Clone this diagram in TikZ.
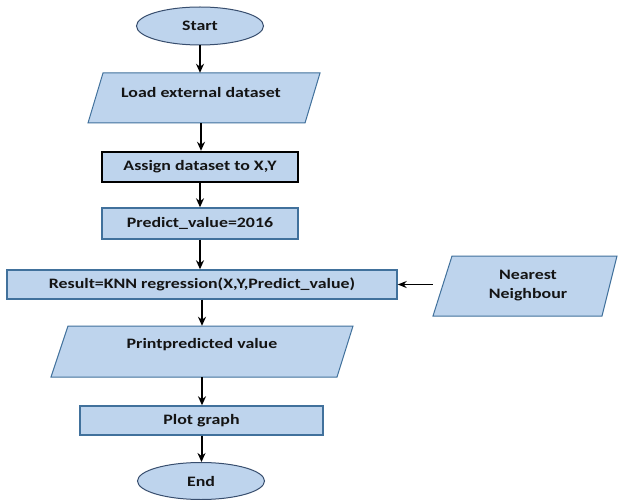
\documentclass[tikz,border=0pt]{standalone}
\usepackage{fontspec}
\setmainfont{Carlito}[FakeStretch=1.24]
\usetikzlibrary{shapes.geometric,arrows.meta}
\definecolor{boxfill}{RGB}{190,212,237}
\definecolor{boxline}{RGB}{65,113,156}
\definecolor{ovalline}{RGB}{56,78,110}
\definecolor{txtcol}{RGB}{20,20,20}
\tikzset{
  lbl/.style={font=\fontsize{14.4}{17}\selectfont\bfseries, text=txtcol, align=center, inner sep=0pt},
  oval/.style={ellipse, draw=ovalline, fill=boxfill, line width=1pt, inner sep=0pt},
  procbox/.style={rectangle, draw=boxline, fill=boxfill, line width=1.4pt, inner sep=0pt},
  strongbox/.style={procbox, draw=black, line width=2.4pt},
  para/.style={draw=boxline, fill=boxfill, line width=1pt},
  frame/.style={rectangle, inner sep=0pt},
  flow/.style={draw=black, line width=2pt, -{Stealth[length=9pt,width=8pt]}},
  thinflow/.style={draw=black, line width=1.2pt, -{Stealth[length=9pt,width=7pt]}}
}
\begin{document}
\begin{tikzpicture}[x=1pt,y=-1pt]
\useasboundingbox[fill=white] (0,0) rectangle (618,500);

% terminators
\node[oval, minimum width=127pt, minimum height=38pt, lbl] (start) at (200,26) {Start};
\node[oval, minimum width=127pt, minimum height=37pt, lbl] (end) at (201,481) {End};

% input / output parallelograms
\path[para] (103,73) -- (320,73) -- (305,123) -- (88,123) -- cycle;
\node[frame, minimum width=232pt, minimum height=50pt] (load) at (204,98) {};
\node[lbl] (loadtxt) at (201,93) {Load external dataset};

\path[para] (68,326) -- (353,326) -- (337,377) -- (51,377) -- cycle;
\node[frame, minimum width=302pt, minimum height=51pt] (print) at (202,351.5) {};
\node[lbl] (printtxt) at (202,345) {Printpredicted value};

\path[para] (452,256) -- (617,256) -- (602,316) -- (433,316) -- cycle;
\node[frame, minimum width=184pt, minimum height=60pt] (nearest) at (525,286) {};
\node[lbl, text width=120pt] (neartxt) at (528,286) {Nearest\\[2pt]Neighbour};

% process boxes
\node[strongbox, minimum width=196pt, minimum height=30pt, lbl] (assign) at (200,167) {Assign dataset to X,Y};
\node[procbox, minimum width=196pt, minimum height=31pt, lbl] (predict) at (200,223.5) {Predict\_value=2016};
\node[procbox, minimum width=390pt, minimum height=29pt, lbl] (result) at (202,284.5) {Result=KNN regression(X,Y,Predict\_value)};
\node[procbox, minimum width=243pt, minimum height=29pt, lbl] (plot) at (201.5,420.5) {Plot graph};

% connectors
\draw[flow] (start.south) -- (start.south |- load.north);
\draw[flow] (loadtxt |- load.south) -- (loadtxt |- assign.north);
\draw[flow] (assign.south) -- (assign.south |- predict.north);
\draw[flow] (predict.south) -- (predict.south |- result.north);
\draw[flow] (result.south) -- (result.south |- print.north);
\draw[flow] (printtxt |- print.south) -- (printtxt |- plot.north);
\draw[flow] (plot.south) -- (plot.south |- end.north);
\draw[thinflow] (nearest.west |- result.east) -- (result.east);
\end{tikzpicture}
\end{document}
